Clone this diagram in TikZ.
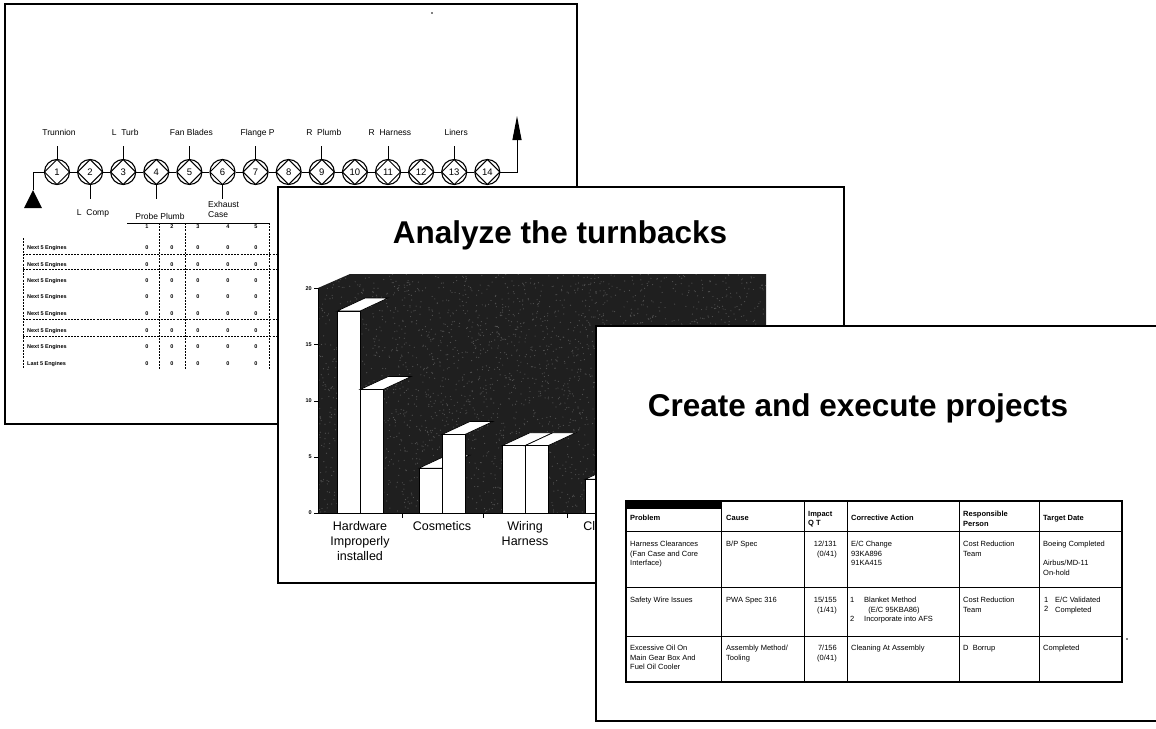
\documentclass[tikz,border=0pt]{standalone}
\usepackage{fontspec}
\setmainfont{Liberation Sans}
\usetikzlibrary{arrows.meta}

\tikzset{
  slide/.style={draw=black, fill=white, line width=1.4},
  stn/.style={circle, draw, fill=white, line width=1.1, minimum size=25, inner sep=0,
    font=\fontsize{9.5}{9.5}\selectfont,
    path picture={\draw[line width=1.0] (path picture bounding box.north) -- (path picture bounding box.east)
      -- (path picture bounding box.south) -- (path picture bounding box.west) -- cycle;}},
  link/.style={line width=1.0},
  stlbl/.style={font=\fontsize{8.5}{10}\selectfont, inner sep=0},
  dgrid/.style={line width=0.6, dash pattern=on 2pt off 1.2pt},
  smallbold/.style={font=\fontsize{5.5}{6}\selectfont\bfseries, inner sep=0},
  slidetitle/.style={font=\fontsize{31.5}{32}\selectfont\bfseries, inner sep=0},
  catlbl/.style={font=\fontsize{12.5}{15}\selectfont, align=center, inner sep=0, anchor=north},
  barface/.style={fill=white, draw=black, line width=0.7},
  tbl/.style={line width=1.0},
  celltxt/.style={font=\fontsize{7.5}{9.5}\selectfont, inner sep=0, anchor=north west, align=left},
  hcelltxt/.style={celltxt, font=\fontsize{7.5}{9.5}\selectfont\bfseries},
}

% one chart bar: left edge, value
\newcommand\chartbar[2]{%
  \pgfmathsetmacro\bartop{513-11.22*#2}%
  \filldraw[barface] (#1,\bartop) -- ++(28,-13) -- ++(23,0) -- ++(-28,13) -- cycle;
  \filldraw[barface] (#1,\bartop) rectangle ({#1+23},513);
}

\begin{document}
\begin{tikzpicture}[x=1pt,y=-1pt]
\useasboundingbox (0,0) rectangle (1156,728);
\fill[white] (0,0) rectangle (1156,728);

% ================= slide 1: station map and engine table
\draw[slide] (5,4) rectangle (577,424);
\fill (432,13) circle (0.9);

\foreach \i in {1,...,14}
  \node[stn] (s\i) at ({57+33.1*(\i-1)},172) {\i};
\foreach \i in {1,...,13}{
  \pgfmathtruncatemacro\j{\i+1}
  \draw[link] (s\i) -- (s\j);
}
\coordinate (inlet) at (33,190);
\draw[link] (s1.west) -| (inlet);
\fill (inlet) -- (42,208) -- (24,208) -- cycle;
\coordinate (outlet) at (517,116);
\draw[link, -{Triangle[length=24pt,width=9pt]}] (s14.east) -| (outlet);

\foreach \i/\t in {1/Trunnion,3/L\ \ Turb,5/Fan Blades,7/Flange P,9/R\ \ Plumb,11/R\ \ Harness,13/Liners}{
  \draw[link] (s\i.north) -- ++(0,-13);
  \node[stlbl, anchor=base] (up\i) at ([shift={(2,-23)}]s\i.north) {\t};
}
\draw[link] (s2.south) -- ++(0,14);
\node[stlbl, anchor=base] (dn2) at (93,215) {L\ \ Comp};
\draw[link] (s4.south) -- ++(0,14);
\node[stlbl, anchor=base] (dn4) at (160,219) {Probe Plumb};
\draw[link] (s6.south) -- ++(0,14);
\node[stlbl, align=left, anchor=north west] (dn6) at (208,201) {Exhaust\\Case};

% engine table
\draw[line width=0.6] (127,223) -- (269,223);
\foreach \n/\x in {1/147,2/172,3/198,4/228,5/256}
  \node[smallbold] (hd\n) at (\x,227) {\n};
\foreach \x in {159,185,269}
  \draw[dgrid] (\x,223) -- (\x,369);
\draw[dgrid] (23,238) -- (23,369);
\foreach \y in {254,269,319,336}
  \draw[dgrid] (23,\y) -- (290,\y);
\foreach \y [count=\r] in {248,265,281,297,314,331,347,364}{
  \node[smallbold, anchor=west] (row\r) at (27,\y) {\ifnum\r=8 Last\else Next\fi\ 5 Engines};
  \foreach \x [count=\c] in {147,172,198,228,256}
    \node[smallbold] (val\r-\c) at (\x,\y) {0};
}

% ================= slide 2: turnback chart
\draw[slide] (278,187) rectangle (844,583);
\node[slidetitle, anchor=base] (title2) at (560,243) {Analyze the turnbacks};

\fill[black!88] (318,513) -- (318,288) -- (350,274) -- (766,274) -- (766,513) -- cycle;
\begin{scope}
  \clip (318,513) -- (318,288) -- (350,274) -- (766,274) -- (766,513) -- cycle;
  \pgfmathsetseed{11}
  \foreach \k in {1,...,3200}
    \fill[black!68] ({318+448*rnd},{274+239*rnd}) circle (0.6);
\end{scope}

\draw[line width=0.8] (318,288) -- (318,513) -- (600,513);
\foreach \v in {0,5,10,15,20}{
  \draw[line width=0.6] (314,{513-11.22*\v}) -- (318,{513-11.22*\v});
  \node[smallbold, anchor=east] (yt\v) at (312,{513-11.22*\v}) {\v};
}
\foreach \x in {402,483,567}
  \draw[line width=0.6] (\x,513) -- (\x,518);

\chartbar{337}{18}
\chartbar{360}{11}
\chartbar{419}{4}
\chartbar{442}{7}
\chartbar{502}{6}
\chartbar{525}{6}
\chartbar{585}{3}

\node[catlbl] (cat1) at (360,521) {Hardware\\Improperly\\installed};
\node[catlbl] (cat2) at (442,521) {Cosmetics};
\node[catlbl] (cat3) at (525,521) {Wiring\\Harness};
\node[catlbl] (cat4) at (608,521) {Cleaning};

% ================= slide 3: project table
\draw[slide] (596,326) rectangle (1180,721);
\node[slidetitle, anchor=base] (title3) at (858,416) {Create and execute projects};

\fill (626,500) rectangle (721,509);
\draw[line width=1.2] (626,501) rectangle (1122,682);
\foreach \x in {721,804,847,959,1039}
  \draw[tbl] (\x,501) -- (\x,682);
\foreach \y in {531,587,636}
  \draw[tbl] (626,\y) -- (1122,\y);

% header row
\node[hcelltxt] (hp) at (630,515) {Problem};
\node[hcelltxt] (hc) at (726,515) {Cause};
\node[hcelltxt] (hi) at (808,511) {Impact\\Q T};
\node[hcelltxt] (ha) at (851,515) {Corrective Action};
\node[hcelltxt] (hr) at (963,511) {Responsible\\Person};
\node[hcelltxt] (ht) at (1043,515) {Target Date};

% row 1
\node[celltxt] (p1) at (630,541) {Harness Clearances\\(Fan Case and Core\\Interface)};
\node[celltxt] (c1) at (726,541) {B/P Spec};
\node[celltxt, anchor=north east, align=right] (i1) at (837,541) {12/131\\(0/41)};
\node[celltxt] (a1) at (851,541) {E/C Change\\93KA896\\91KA415};
\node[celltxt] (r1) at (963,541) {Cost Reduction\\Team};
\node[celltxt] (t1) at (1043,541) {Boeing Completed};
\node[celltxt] (t1b) at (1043,560) {Airbus/MD-11\\On-hold};

% row 2
\node[celltxt] (p2) at (630,597) {Safety Wire Issues};
\node[celltxt] (c2) at (726,597) {PWA Spec 316};
\node[celltxt, anchor=north east, align=right] (i2) at (837,597) {15/155\\(1/41)};
\node[celltxt] (a2n) at (850,597) {1\\\\2};
\node[celltxt] (a2) at (864,597) {Blanket Method\\\ \ (E/C 95KBA86)\\Incorporate into AFS};
\node[celltxt] (r2) at (963,597) {Cost Reduction\\Team};
\node[celltxt] (t2n) at (1044,597) {1\\2};
\node[celltxt] (t2) at (1055,597) {E/C Validated\\Completed};

% row 3
\node[celltxt] (p3) at (630,645) {Excessive Oil On\\Main Gear Box And\\Fuel Oil Cooler};
\node[celltxt] (c3) at (726,645) {Assembly Method/\\Tooling};
\node[celltxt, anchor=north east, align=right] (i3) at (837,645) {7/156\\(0/41)};
\node[celltxt] (a3) at (851,645) {Cleaning At Assembly};
\node[celltxt] (r3) at (963,645) {D\ \ Borrup};
\node[celltxt] (t3) at (1043,645) {Completed};

\fill (1127,639) circle (0.9);
\end{tikzpicture}
\end{document}
